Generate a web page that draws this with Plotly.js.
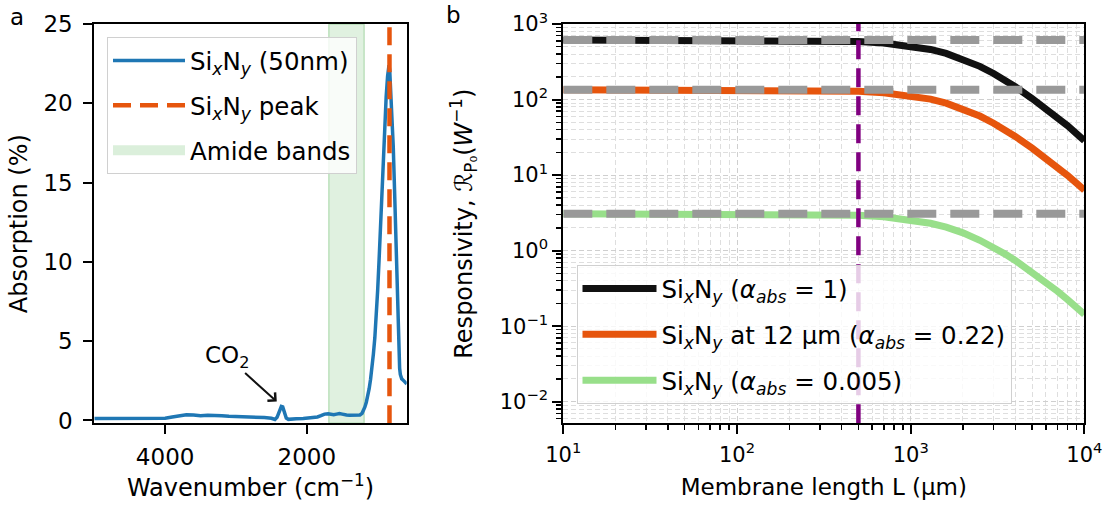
<!DOCTYPE html>
<html><head><meta charset="utf-8">
<script src="https://cdn.plot.ly/plotly-3.0.1.min.js"></script>
<style>html,body{margin:0;padding:0;background:#fff}#chart{width:1111px;height:513px}</style>
</head><body><div id="chart"></div>
<script>
// ---- Panel a: FTIR absorption spectrum ----
const wavenumber = [5000,4800,4600,4400,4200,4000,3900,3800,3700,3600,3500,3400,3300,3200,3100,3000,2900,2800,2700,2600,2500,2450,2420,2390,2360,2340,2320,2290,2260,2230,2150,2050,1950,1850,1800,1750,1700,1660,1620,1580,1540,1500,1470,1440,1400,1350,1300,1250,1220,1200,1180,1160,1140,1120,1100,1080,1060,1040,1020,1000,980,960,940,920,900,880,860,850,840,830,820,800,780,760,740,720,700,690,680,670,660,650,640,620,600,590];
const absorption = [0.12,0.12,0.11,0.12,0.12,0.14,0.22,0.30,0.36,0.34,0.30,0.32,0.33,0.30,0.27,0.26,0.25,0.22,0.20,0.18,0.14,0.06,0.20,0.60,0.88,0.85,0.55,0.15,0.07,0.09,0.11,0.13,0.16,0.22,0.30,0.40,0.42,0.38,0.36,0.40,0.44,0.40,0.35,0.34,0.33,0.33,0.33,0.35,0.45,0.60,0.85,1.15,1.50,2.00,2.60,3.30,4.20,5.20,6.50,8.20,10.1,12.3,14.8,17.0,18.9,20.4,21.7,22.2,22.4,22.1,21.3,19.7,17.3,14.3,10.8,7.0,4.2,3.3,2.9,2.7,2.62,2.58,2.55,2.45,2.35,2.30];
const peakWavenumber = 833;
const amideBand = [1690, 1190];
const co2Point = [2424, 1.19];
const xRangeA = [5000, 590];
const yRangeA = [-0.18, 25];
const xTicksA = [4000, 2000];
const yTicksA = [0, 5, 10, 15, 20, 25];

// ---- Panel b: responsivity vs membrane length ----
const membraneLength = [10,20,50,100,200,300,500,700,1000,1300,1600,2000,2500,3000,3500,4000,5000,6000,7000,8000,9000,10000];
const respAbs1 =     [614,614,614,613,609,603,585,560,513,460,408,343,275,221,180,148,103,76,57.5,45,35.5,28.5];
const respAbs022 =   [135,135,135,134.8,134,132.7,128.7,123.2,112.8,101.3,89.7,75.5,60.5,48.6,39.5,32.5,22.7,16.7,12.7,9.9,7.8,6.3];
const respAbs0005 =  [3.07,3.07,3.07,3.06,3.05,3.02,2.93,2.80,2.56,2.30,2.04,1.72,1.37,1.11,0.90,0.74,0.52,0.38,0.29,0.225,0.178,0.143];
const plateauLevels = [614, 135, 3.07];
const markerLength = 500;
const xRangeBlog = [1, 4];
const yRangeBlog = [-2.286, 3];
const xTicksB = [10, 100, 1000, 10000];
const xTickTextB = ['10<sup>1</sup>','10<sup>2</sup>','10<sup>3</sup>','10<sup>4</sup>'];
const yTicksB = [0.01, 0.1, 1, 10, 100, 1000];
const yTickTextB = ['10<sup>−2</sup>','10<sup>−1</sup>','10<sup>0</sup>','10<sup>1</sup>','10<sup>2</sup>','10<sup>3</sup>'];

const SIXNY = 'Si<sub><i>x</i></sub>N<sub><i>y</i></sub>';
const xLimB = xRangeBlog.map(v => Math.pow(10, v));
const yLimB = yRangeBlog.map(v => Math.pow(10, v));

const traces = [
  {x:[amideBand[0],amideBand[0],amideBand[1],amideBand[1],amideBand[0]], y:[yRangeA[0],yRangeA[1],yRangeA[1],yRangeA[0],yRangeA[0]],
   xaxis:'x', yaxis:'y', mode:'lines', fill:'toself', fillcolor:'rgba(44,160,44,0.15)',
   line:{color:'rgba(44,160,44,0.25)', width:1.5}, showlegend:false, hoverinfo:'skip'},
  {x:wavenumber, y:absorption, xaxis:'x', yaxis:'y', mode:'lines', name:SIXNY+' (50nm)',
   line:{color:'#1f77b4', width:3.5}, legend:'legend', legendgroup:'a1'},
  {x:[peakWavenumber, peakWavenumber], y:[yRangeA[0], yRangeA[1]], xaxis:'x', yaxis:'y', mode:'lines', name:SIXNY+' peak',
   line:{color:'#e6550d', width:4.5, dash:'18px,9px'}, legend:'legend', legendgroup:'a2'},
  {x:[null], y:[null], xaxis:'x', yaxis:'y', mode:'lines', name:'Amide bands',
   line:{color:'rgba(44,160,44,0.17)', width:20}, legend:'legend', legendgroup:'a3'},

  {x:membraneLength, y:respAbs1, xaxis:'x2', yaxis:'y2', mode:'lines', name:SIXNY+' (<i>α<sub>abs</sub></i> = 1)',
   line:{color:'#111111', width:7}, legend:'legend2', legendgroup:'b1'},
  {x:membraneLength, y:respAbs022, xaxis:'x2', yaxis:'y2', mode:'lines', name:SIXNY+' at 12 μm (<i>α<sub>abs</sub></i> = 0.22)',
   line:{color:'#e6550d', width:7}, legend:'legend2', legendgroup:'b2'},
  {x:membraneLength, y:respAbs0005, xaxis:'x2', yaxis:'y2', mode:'lines', name:SIXNY+' (<i>α<sub>abs</sub></i> = 0.005)',
   line:{color:'#98df8a', width:7}, legend:'legend2', legendgroup:'b3'}
];
plateauLevels.forEach(v => traces.push({x:xLimB, y:[v, v], xaxis:'x2', yaxis:'y2', mode:'lines', showlegend:false,
   line:{color:'#999999', width:8, dash:'29px,14px'}, hoverinfo:'skip'}));
traces.push({x:[markerLength, markerLength], y:[yLimB[0], yLimB[1]], xaxis:'x2', yaxis:'y2', mode:'lines', showlegend:false,
   line:{color:'#800080', width:4.5, dash:'19px,9px'}, hoverinfo:'skip'});

const W = 1111, H = 513;
const domY = [(H-423.3)/H, (H-24)/H];
const axBase = {showline:true, linecolor:'#000', linewidth:2, mirror:true, ticks:'outside', ticklen:9, tickwidth:2,
  tickcolor:'#000', zeroline:false, automargin:false};
const gridCol = '#cfcfcf';

const layout = {
  width:W, height:H, margin:{l:0,r:0,t:0,b:0}, paper_bgcolor:'#fff', plot_bgcolor:'#fff',
  font:{family:'DejaVu Sans', color:'#000', size:20},
  xaxis:Object.assign({}, axBase, {domain:[94.3/W, 406.7/W], anchor:'y', range:xRangeA, tickmode:'array', tickvals:xTicksA,
    showgrid:false, tickfont:{size:23}, ticklabelstandoff:3, title:{text:'Wavenumber (cm<sup>−1</sup>)', font:{size:24}, standoff:9}}),
  yaxis:Object.assign({}, axBase, {domain:domY, anchor:'x', range:yRangeA, tickmode:'array', tickvals:yTicksA,
    showgrid:false, tickfont:{size:23}, ticklabelstandoff:6, title:{text:'Absorption (%)', font:{size:24}, standoff:9}}),
  xaxis2:Object.assign({}, axBase, {domain:[563.3/W, 1084.4/W], anchor:'y2', type:'log', range:xRangeBlog,
    tickmode:'array', tickvals:xTicksB, ticktext:xTickTextB, tickfont:{size:21}, ticklabelstandoff:2,
    showgrid:true, gridcolor:gridCol, griddash:'5px,3px', gridwidth:1,
    minor:{dtick:'D1', ticks:'outside', ticklen:5, tickwidth:1.5, tickcolor:'#000', showgrid:true, gridcolor:'#dedede', griddash:'5px,3px', gridwidth:1},
    title:{text:'Membrane length L (μm)', font:{size:23}, standoff:13}}),
  yaxis2:Object.assign({}, axBase, {domain:domY, anchor:'x2', type:'log', range:yRangeBlog,
    tickmode:'array', tickvals:yTicksB, ticktext:yTickTextB, tickfont:{size:21},
    showgrid:true, gridcolor:gridCol, griddash:'5px,3px', gridwidth:1,
    minor:{dtick:'D1', ticks:'outside', ticklen:5, tickwidth:1.5, tickcolor:'#000', showgrid:true, gridcolor:'#dedede', griddash:'5px,3px', gridwidth:1},
    title:{text:'Responsivity, ℛ<sub>P₀</sub>(<i>W</i><sup>−1</sup>)', font:{size:24}, standoff:20}}),
  legend:{x:107/W, y:1-37/H, xanchor:'left', yanchor:'top', bgcolor:'rgba(255,255,255,0.8)', bordercolor:'#d0d0d0', borderwidth:1,
    font:{size:24.5}, itemwidth:72, tracegroupgap:10},
  legend2:{x:576.5/W, y:1-265/H, xanchor:'left', yanchor:'top', bgcolor:'rgba(255,255,255,0.8)', bordercolor:'#d0d0d0', borderwidth:1,
    font:{size:24.5}, itemwidth:74, tracegroupgap:11},
  annotations:[
    {text:'a', xref:'paper', yref:'paper', x:17/W, y:1-17/H, xanchor:'center', yanchor:'middle', showarrow:false, font:{size:23}},
    {text:'b', xref:'paper', yref:'paper', x:453/W, y:1-15/H, xanchor:'center', yanchor:'middle', showarrow:false, font:{size:23}},
    {text:'CO<sub>2</sub>', xref:'x', yref:'y', x:co2Point[0], y:co2Point[1], ax:-50, ay:-45, showarrow:true,
     arrowhead:4, arrowsize:1.1, arrowwidth:2, arrowcolor:'#111', font:{size:23}, standoff:0}
  ]
};
Plotly.newPlot('chart', traces, layout, {staticPlot:true, displayModeBar:false});
</script>
</body></html>
